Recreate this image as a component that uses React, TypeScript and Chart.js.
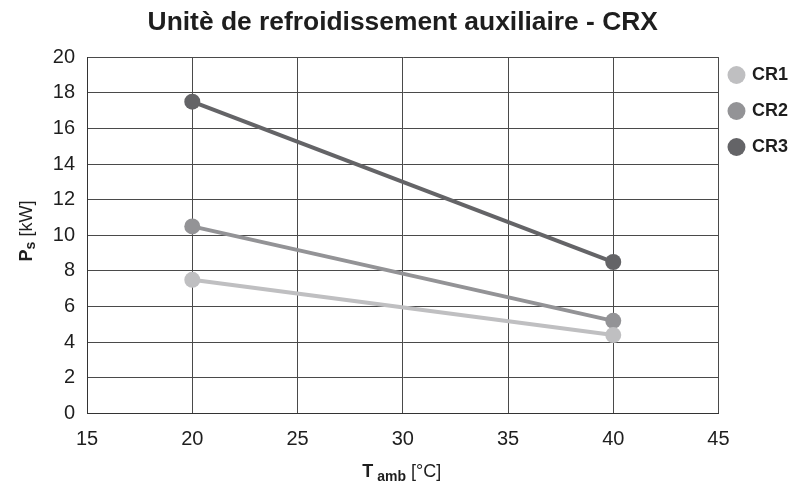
import React, { useEffect, useRef } from "react";
import { Chart, registerables } from "chart.js";

Chart.register(...registerables);

const titleText = "Unitè de refroidissement auxiliaire - CRX";
const seriesNames = ["CR1", "CR2", "CR3"];
const xValues = [20, 40];
const cr1 = [7.5, 4.4];
const cr2 = [10.5, 5.2];
const cr3 = [17.5, 8.5];
const colors = ["#bfbfc1", "#939396", "#646467"];
const xTicks = [15, 20, 25, 30, 35, 40, 45];
const yTicks = [0, 2, 4, 6, 8, 10, 12, 14, 16, 18, 20];

const FONT = "'Liberation Sans', Arial, sans-serif";
const TEXT = "#1e1e1e";

const axisTitlePlugin = {
  id: "axisTitles",
  afterDraw(chart: any) {
    const ctx = chart.ctx;
    const area = chart.chartArea;
    ctx.save();
    ctx.fillStyle = TEXT;
    ctx.textBaseline = "alphabetic";
    ctx.textAlign = "left";
    const drawParts = (parts: any[], cx: number, baseY: number) => {
      let total = 0;
      parts.forEach((p) => {
        ctx.font = p.f;
        total += ctx.measureText(p.t).width;
      });
      let x = cx - total / 2;
      parts.forEach((p) => {
        ctx.font = p.f;
        ctx.fillText(p.t, x, baseY + p.dy);
        x += ctx.measureText(p.t).width;
      });
    };
    // X title: T amb [°C]
    drawParts(
      [
        { t: "T", f: `bold 18px ${FONT}`, dy: 0 },
        { t: " amb", f: `bold 14px ${FONT}`, dy: 4 },
        { t: " [°C]", f: `18px ${FONT}`, dy: 0 },
      ],
      (area.left + area.right) / 2 - 1,
      477
    );
    // Y title: P s [kW]
    ctx.translate(32, 231);
    ctx.rotate(-Math.PI / 2);
    drawParts(
      [
        { t: "P", f: `bold 18px ${FONT}`, dy: 0 },
        { t: "s", f: `bold 14px ${FONT}`, dy: 3 },
        { t: " [kW]", f: `18px ${FONT}`, dy: 0 },
      ],
      0,
      0
    );
    ctx.restore();
  },
};

export default function App() {
  const ref = useRef<HTMLCanvasElement>(null);
  useEffect(() => {
    document.body.style.margin = "0";
    const series = [cr1, cr2, cr3];
    const chart = new Chart(ref.current!, {
      type: "line",
      data: {
        datasets: series.map((vals, i) => ({
          label: seriesNames[i],
          data: xValues.map((x, j) => ({ x, y: vals[j] })),
          borderColor: colors[i],
          backgroundColor: colors[i],
          pointBackgroundColor: colors[i],
          pointBorderColor: colors[i],
          borderWidth: 4,
          pointRadius: 8,
          pointBorderWidth: 0,
          pointStyle: "circle",
        })),
      },
      options: {
        animation: false,
        responsive: false,
        layout: { padding: { left: 40.8, right: -3, top: 0, bottom: 17.5 } },
        plugins: {
          title: {
            display: true,
            fullSize: false,
            text: titleText,
            font: { family: FONT, size: 26.4, weight: "bold", lineHeight: 1.2 },
            color: TEXT,
            padding: { top: 7.2, bottom: 18.2 },
          },
          legend: {
            position: "right",
            align: "start",
            fullSize: true,
            title: {
              display: true,
              text: " ",
              font: { family: FONT, size: 10, lineHeight: 1 },
              padding: { top: 44.5, bottom: 0 },
            },
            labels: {
              usePointStyle: true,
              pointStyle: "circle",
              boxWidth: 13,
              boxHeight: 12.7,
              padding: 11.5,
              color: TEXT,
              font: { family: FONT, size: 18, weight: "bold", lineHeight: 24.5 / 18 },
              generateLabels: (c: any) =>
                Chart.defaults.plugins.legend.labels
                  .generateLabels(c)
                  .map((l: any) => ({ ...l, text: [l.text], lineWidth: 0 })),
            },
          },
          tooltip: { enabled: false },
        },
        scales: {
          x: {
            type: "linear",
            min: 15,
            max: 45,
            afterBuildTicks: (s: any) => {
              s.ticks = xTicks.map((v) => ({ value: v }));
            },
            ticks: {
              color: TEXT,
              font: { family: FONT, size: 20, lineHeight: 1.2 },
              padding: 13.5,
            },
            grid: { color: "#4a4a4a", lineWidth: 1, drawTicks: false },
            border: { color: "#333", width: 1 },
          },
          y: {
            type: "linear",
            min: 0,
            max: 20,
            afterBuildTicks: (s: any) => {
              s.ticks = yTicks.map((v) => ({ value: v }));
            },
            ticks: {
              color: TEXT,
              font: { family: FONT, size: 20, lineHeight: 1.2 },
              padding: 12,
            },
            grid: { color: "#4a4a4a", lineWidth: 1, drawTicks: false },
            border: { color: "#333", width: 1 },
          },
        },
      },
      plugins: [axisTitlePlugin],
    } as any);
    return () => chart.destroy();
  }, []);
  return (
    <div style={{ width: 795, height: 482, background: "#fff" }}>
      <canvas ref={ref} width={795} height={482} />
    </div>
  );
}
